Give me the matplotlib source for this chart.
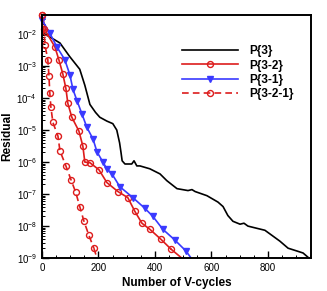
import matplotlib
matplotlib.use('Agg')
import matplotlib.pyplot as plt
import numpy as np
from matplotlib.ticker import LogLocator, MultipleLocator, NullFormatter

plt.rcParams['font.family'] = ['Liberation Sans', 'DejaVu Sans']
plt.rcParams['mathtext.default'] = 'regular'

# P{3} (black, no markers)
p3_x = [0, 10, 30, 64, 99, 134, 152, 170, 190, 205, 230, 251, 265, 275, 280, 284,
        294, 318, 326, 336, 347, 382, 418, 442, 478, 517, 531, 542, 584, 623,
        641, 658, 676, 701, 715, 729, 761, 789, 814, 842, 871, 903, 924, 945]
p3_log = [-1.9, -2.0, -2.1, -2.28, -2.71, -3.1, -3.6, -4.2, -4.45, -4.6, -4.72,
          -4.8, -5.0, -5.4, -5.7, -5.96, -6.06, -6.06, -5.96, -6.12, -6.12, -6.21,
          -6.37, -6.58, -6.83, -6.89, -6.86, -6.92, -7.05, -7.25, -7.39, -7.67,
          -7.85, -7.94, -7.91, -8.0, -8.07, -8.13, -8.29, -8.47, -8.69, -8.78,
          -8.84, -9.0]

# P{3-2} (red solid, circles)
p32_x = [0, 16, 46, 60, 74, 85, 92, 106, 131, 145, 152, 170, 202, 230, 269, 304,
         329, 354, 382, 421, 457, 495]
p32_log = [-1.41, -1.95, -2.40, -2.80, -3.24, -3.70, -4.17, -4.60, -5.03, -5.50,
           -6.0, -6.02, -6.24, -6.64, -6.92, -7.11, -7.54, -7.91, -8.10, -8.41,
           -8.72, -9.0]

# P{3-1} (blue, triangles)
p31_x = [0, 28, 53, 81, 99, 110, 125, 142, 159, 181, 195, 216, 230, 248, 276, 322,
         365, 393, 428, 471, 510, 528]
p31_log = [-1.55, -1.97, -2.40, -2.80, -3.27, -3.73, -4.1, -4.5, -4.91, -5.28,
           -5.68, -6.0, -6.21, -6.37, -6.77, -7.11, -7.45, -7.70, -8.10, -8.44,
           -8.78, -9.0]

# P{3-2-1} (red dashed, circles)
p321_x = [0, 7, 11, 21, 25, 28, 32, 39, 57, 64, 85, 103, 120, 134, 149, 166, 184, 195]
p321_log = [-1.41, -1.85, -2.34, -2.80, -3.30, -3.83, -4.29, -4.76, -5.19, -5.65,
            -6.12, -6.55, -6.95, -7.39, -7.85, -8.28, -8.69, -9.0]

red = '#dd1c1c'
blue = '#3a3aff'

fig = plt.figure(figsize=(3.27, 2.91), dpi=100)
ax = fig.add_axes([0.128, 0.113, 0.823, 0.835])

ax.plot(p3_x, 10 ** np.array(p3_log), color='black', lw=1.2, label='P{3}')
ax.plot(p32_x[:-1], 10 ** np.array(p32_log[:-1]), color=red, lw=1.2, marker='o',
        ms=4.3, mfc='none', mew=1.0, label='P{3-2}', clip_on=False)
ax.plot(p32_x[-2:], 10 ** np.array(p32_log[-2:]), color=red, lw=1.2)
ax.plot(p31_x[:-1], 10 ** np.array(p31_log[:-1]), color=blue, lw=1.2, marker='v',
        ms=4.3, mfc=blue, mec=blue, label='P{3-1}', clip_on=False)
ax.plot(p31_x[-2:], 10 ** np.array(p31_log[-2:]), color=blue, lw=1.2)
ax.plot(p321_x[:-1], 10 ** np.array(p321_log[:-1]), color=red, lw=1.2, ls=(0, (4, 2.5)),
        marker='o', ms=4.3, mfc='none', mew=1.0, label='P{3-2-1}', clip_on=False)
ax.plot(p321_x[-2:], 10 ** np.array(p321_log[-2:]), color=red, lw=1.2, ls=(0, (4, 2.5)))

ax.set_yscale('log')
ax.set_xlim(0, 952)
ax.set_ylim(1e-9, 10 ** -1.41)
ax.xaxis.set_major_locator(MultipleLocator(200))
ax.xaxis.set_minor_locator(MultipleLocator(50))
ax.yaxis.set_major_locator(LogLocator(base=10, numticks=20))
ax.yaxis.set_minor_locator(LogLocator(base=10, subs=np.arange(2, 10), numticks=20))
ax.yaxis.set_minor_formatter(NullFormatter())
ax.tick_params(which='both', direction='in', labelsize=7, top=False, right=False)
ax.tick_params(which='major', length=5, width=1)
ax.tick_params(which='minor', length=2.5, width=0.7)
for s in ax.spines.values():
    s.set_linewidth(1.4)

ax.set_xlabel('Number of V-cycles', fontsize=8.5, fontweight='bold', labelpad=3)
ax.set_ylabel('Residual', fontsize=8.5, fontweight='bold', labelpad=2)

leg = ax.legend(loc='upper right', bbox_to_anchor=(0.975, 0.92), frameon=False,
                numpoints=1, handlelength=4.8, handletextpad=0.9, labelspacing=0.2,
                prop={'size': 8.5, 'weight': 'bold'})

fig.savefig('out.png', dpi=100)
